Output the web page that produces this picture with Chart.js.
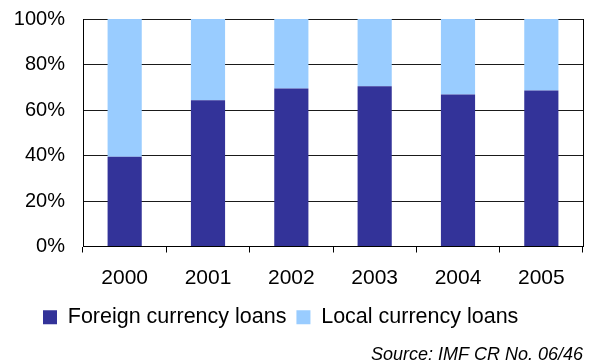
<!DOCTYPE html>
<html>
<head>
<meta charset="utf-8">
<script src="https://cdn.jsdelivr.net/npm/chart.js@4"></script>
<style>
  html, body { margin: 0; padding: 0; background: #fff; }
</style>
</head>
<body>
<canvas id="loanChart" width="589" height="362"></canvas>
<script>
// share of bank loans by currency, % of total
const years = ['2000', '2001', '2002', '2003', '2004', '2005'];
const foreignLoans = [39.5, 64.3, 69.5, 70.4, 66.8, 68.6];
const localLoans = [60.5, 35.7, 30.5, 29.6, 33.2, 31.4];
const yTicks = [0, 20, 40, 60, 80, 100];

const FONT = '"Liberation Sans", Arial, sans-serif';

// legend sits a little in from the left edge, not centred on the canvas
const legendInset = {
  id: 'legendInset',
  afterLayout(chart) {
    if (chart.legend) chart.legend.left = 33;
  }
};

const ctx = document.getElementById('loanChart').getContext('2d');

new Chart(ctx, {
  type: 'bar',
  plugins: [legendInset],
  data: {
    labels: years,
    datasets: [
      {
        label: 'Foreign currency loans',
        data: foreignLoans,
        backgroundColor: '#333399',
        barPercentage: 0.41,
        categoryPercentage: 1
      },
      {
        label: 'Local currency loans',
        data: localLoans,
        backgroundColor: '#99ccff',
        barPercentage: 0.41,
        categoryPercentage: 1
      }
    ]
  },
  options: {
    responsive: false,
    animation: false,
    layout: {
      padding: { left: 0, right: 6, top: 19, bottom: 0 }
    },
    scales: {
      x: {
        stacked: true,
        offset: true,
        grid: {
          offset: true,
          drawOnChartArea: false,
          drawTicks: true,
          tickLength: 6,
          color: '#000'
        },
        border: { display: true, color: '#000', width: 1 },
        ticks: {
          color: '#000',
          padding: 13,
          font: { family: FONT, size: 21 }
        },
        afterFit: axis => { axis.height = 50; }
      },
      y: {
        stacked: true,
        min: 0,
        max: 100,
        afterBuildTicks: axis => { axis.ticks = yTicks.map(v => ({ value: v })); },
        grid: {
          color: '#1a1a1a',
          drawTicks: false
        },
        border: { display: true, color: '#000', width: 1 },
        ticks: {
          color: '#000',
          padding: 18,
          font: { family: FONT, size: 20 },
          callback: v => v + '%'
        },
        afterFit: axis => {
          axis.width = 83;
          // don't reserve extra room above the plot for the top label
          axis.paddingTop = 0;
          axis.paddingBottom = 0;
        }
      },
      // right-hand frame line
      yRight: {
        position: 'right',
        min: 0,
        max: 100,
        grid: { drawOnChartArea: false, drawTicks: false },
        border: { display: true, color: '#000', width: 1 },
        ticks: { display: false },
        afterFit: axis => { axis.width = 0; }
      }
    },
    plugins: {
      legend: {
        position: 'bottom',
        align: 'start',
        labels: {
          color: '#000',
          boxWidth: 14,
          boxHeight: 14,
          padding: 10,
          font: { family: FONT, size: 21.5 }
        }
      },
      title: {
        display: true,
        position: 'bottom',
        align: 'end',
        text: 'Source: IMF CR No. 06/46',
        color: '#000',
        padding: { top: 10, bottom: 0 },
        font: { family: FONT, size: 18, style: 'italic', weight: 'normal', lineHeight: '14px' }
      },
      tooltip: { enabled: false }
    }
  }
});
</script>
</body>
</html>
